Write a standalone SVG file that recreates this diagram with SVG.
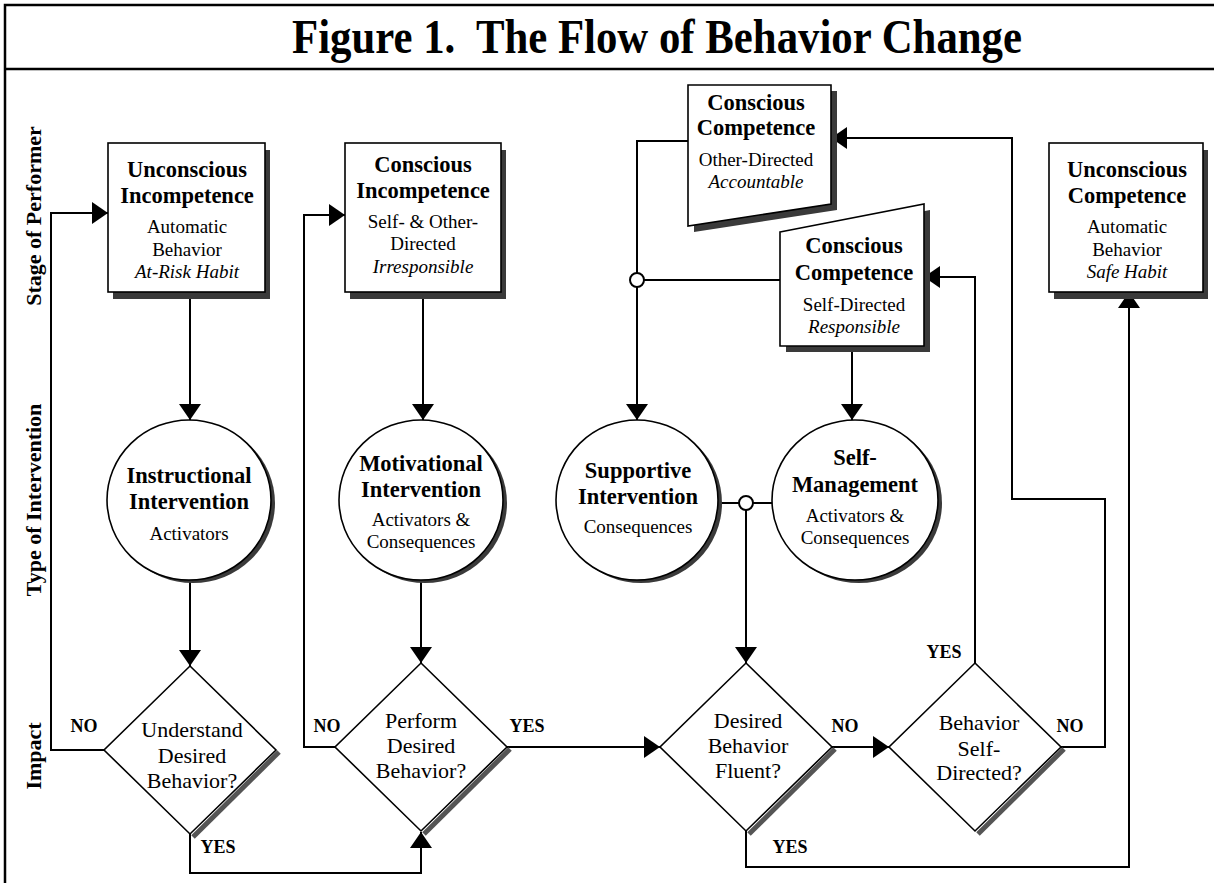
<svg xmlns="http://www.w3.org/2000/svg" width="1214" height="883" viewBox="0 0 1214 883">
<defs>
<style>
text { font-family: "Liberation Serif", "Times New Roman", serif; fill: #000; text-anchor: middle; }
.b { font-weight: bold; font-size: 22.5px; }
.r { font-size: 19px; }
.i { font-style: italic; font-size: 19px; }
.d { font-size: 22px; }
.yn { font-weight: bold; font-size: 18px; }
.ax { font-weight: bold; font-size: 22px; }
.shape { fill: #fff; stroke: #000; stroke-width: 1.6; }
.shadow { fill: #3a3a3a; }
.dshadow { stroke: #555; stroke-width: 5; fill: none; }
.conn { fill: none; stroke: #000; stroke-width: 2; }
.junc { fill: #fff; stroke: #000; stroke-width: 2; }
.frame { stroke: #000; stroke-width: 2.5; fill: none; }
</style>
<marker id="ah" markerUnits="userSpaceOnUse" viewBox="0 0 16 22" markerWidth="16" markerHeight="22" refX="16" refY="11" orient="auto">
<path d="M0,0 L16,11 L0,22 z" fill="#000"/>
</marker>
</defs>
<rect width="1214" height="883" fill="#fff"/>

<g id="frame">
<path class="frame" d="M5,883 L5,5 L1214,5"/>
<path class="frame" d="M5,69 L1214,69"/>
<text x="657" y="53" font-weight="bold" font-size="48" textLength="730" lengthAdjust="spacingAndGlyphs" style="white-space:pre">Figure 1.  The Flow of Behavior Change</text>
</g>

<g id="axis-labels">
<text class="ax" transform="translate(41,216) rotate(-90)">Stage of Performer</text>
<text class="ax" transform="translate(41,500) rotate(-90)">Type of Intervention</text>
<text class="ax" transform="translate(41,756) rotate(-90)">Impact</text>
</g>

<g id="connectors">
<path class="conn" d="M104,750 L51,750 L51,213 L108,213" marker-end="url(#ah)"/>
<path class="conn" d="M190,834 L190,873 L421,873 L421,832" marker-end="url(#ah)"/>
<path class="conn" d="M335,747 L304,747 L304,215 L345,215" marker-end="url(#ah)"/>
<path class="conn" d="M507,747 L660,747" marker-end="url(#ah)"/>
<path class="conn" d="M832,747 L889,747" marker-end="url(#ah)"/>
<path class="conn" d="M975,663 L975,277 L924,277" marker-end="url(#ah)"/>
<path class="conn" d="M1061,747 L1105,747 L1105,499 L1012,499 L1012,138 L831,138" marker-end="url(#ah)"/>
<path class="conn" d="M746,831 L746,867 L1129,867 L1129,292" marker-end="url(#ah)"/>
<path class="conn" d="M190,292 L190,420" marker-end="url(#ah)"/>
<path class="conn" d="M423,292 L423,420" marker-end="url(#ah)"/>
<path class="conn" d="M688,141 L637,141 L637,420" marker-end="url(#ah)"/>
<path class="conn" d="M780,280 L637,280"/>
<path class="conn" d="M852,346 L852,420" marker-end="url(#ah)"/>
<path class="conn" d="M190,580 L190,666" marker-end="url(#ah)"/>
<path class="conn" d="M421,580 L421,663" marker-end="url(#ah)"/>
<path class="conn" d="M718,503 L772,503"/>
<path class="conn" d="M746,503 L746,663" marker-end="url(#ah)"/>
<circle class="junc" cx="637" cy="280" r="7"/>
<circle class="junc" cx="746" cy="503" r="7"/>
</g>

<g id="node-unconscious-incompetence">
<rect class="shadow" x="113" y="150" width="157" height="149"/>
<rect class="shape" x="108" y="143" width="157" height="149"/>
<text class="b" x="187" y="177">Unconscious</text>
<text class="b" x="187" y="203">Incompetence</text>
<text class="r" x="187" y="233">Automatic</text>
<text class="r" x="187" y="256">Behavior</text>
<text class="i" x="187" y="278">At-Risk Habit</text>
</g>

<g id="node-conscious-incompetence">
<rect class="shadow" x="350" y="150" width="156" height="149"/>
<rect class="shape" x="345" y="143" width="156" height="149"/>
<text class="b" x="423" y="172">Conscious</text>
<text class="b" x="423" y="198">Incompetence</text>
<text class="r" x="423" y="228">Self- &amp; Other-</text>
<text class="r" x="423" y="250">Directed</text>
<text class="i" x="423" y="273">Irresponsible</text>
</g>

<g id="node-conscious-competence-other">
<polygon class="shadow" points="694,91 837,91 837,210 694,232"/>
<polygon class="shape" points="688,85 831,85 831,204 688,226"/>
<text class="b" x="756" y="110">Conscious</text>
<text class="b" x="756" y="135">Competence</text>
<text class="r" x="756" y="166">Other-Directed</text>
<text class="i" x="756" y="188">Accountable</text>
</g>

<g id="node-conscious-competence-self">
<polygon class="shadow" points="786,238 930,210 930,352 786,352"/>
<polygon class="shape" points="780,232 924,204 924,346 780,346"/>
<text class="b" x="854" y="253">Conscious</text>
<text class="b" x="854" y="280">Competence</text>
<text class="r" x="854" y="311">Self-Directed</text>
<text class="i" x="854" y="333">Responsible</text>
</g>

<g id="node-unconscious-competence">
<rect class="shadow" x="1054" y="150" width="154" height="149"/>
<rect class="shape" x="1049" y="143" width="154" height="149"/>
<text class="b" x="1127" y="177">Unconscious</text>
<text class="b" x="1127" y="203">Competence</text>
<text class="r" x="1127" y="233">Automatic</text>
<text class="r" x="1127" y="256">Behavior</text>
<text class="i" x="1127" y="278">Safe Habit</text>
</g>

<g id="node-instructional">
<ellipse class="shadow" cx="193" cy="503" rx="82" ry="80"/>
<ellipse class="shape" cx="189" cy="500" rx="82" ry="80"/>
<text class="b" x="189" y="483">Instructional</text>
<text class="b" x="189" y="509">Intervention</text>
<text class="r" x="189" y="540">Activators</text>
</g>

<g id="node-motivational">
<ellipse class="shadow" cx="425" cy="503" rx="82" ry="80"/>
<ellipse class="shape" cx="421" cy="500" rx="82" ry="80"/>
<text class="b" x="421" y="471">Motivational</text>
<text class="b" x="421" y="497">Intervention</text>
<text class="r" x="421" y="526">Activators &amp;</text>
<text class="r" x="421" y="548">Consequences</text>
</g>

<g id="node-supportive">
<ellipse class="shadow" cx="641" cy="503" rx="81" ry="80"/>
<ellipse class="shape" cx="637" cy="500" rx="81" ry="80"/>
<text class="b" x="638" y="478">Supportive</text>
<text class="b" x="638" y="504">Intervention</text>
<text class="r" x="638" y="533">Consequences</text>
</g>

<g id="node-self-management">
<ellipse class="shadow" cx="859" cy="503" rx="83" ry="80"/>
<ellipse class="shape" cx="855" cy="500" rx="83" ry="80"/>
<text class="b" x="855" y="465">Self-</text>
<text class="b" x="855" y="492">Management</text>
<text class="r" x="855" y="522">Activators &amp;</text>
<text class="r" x="855" y="544">Consequences</text>
</g>

<g id="node-understand">
<path class="dshadow" d="M279,752 L193,837"/>
<polygon class="shape" points="190,666 276,750 190,834 104,750"/>
<text class="d" x="192" y="737">Understand</text>
<text class="d" x="192" y="763">Desired</text>
<text class="d" x="192" y="788">Behavior?</text>
</g>

<g id="node-perform">
<path class="dshadow" d="M510,749 L424,834"/>
<polygon class="shape" points="421,663 507,747 421,831 335,747"/>
<text class="d" x="421" y="728">Perform</text>
<text class="d" x="421" y="753">Desired</text>
<text class="d" x="421" y="778">Behavior?</text>
</g>

<g id="node-fluent">
<path class="dshadow" d="M835,749 L749,834"/>
<polygon class="shape" points="746,663 832,747 746,831 660,747"/>
<text class="d" x="748" y="728">Desired</text>
<text class="d" x="748" y="753">Behavior</text>
<text class="d" x="748" y="778">Fluent?</text>
</g>

<g id="node-self-directed">
<path class="dshadow" d="M1064,749 L978,834"/>
<polygon class="shape" points="975,663 1061,747 975,831 889,747"/>
<text class="d" x="979" y="730">Behavior</text>
<text class="d" x="979" y="756">Self-</text>
<text class="d" x="979" y="780">Directed?</text>
</g>

<g id="labels">
<text class="yn" x="84" y="732">NO</text>
<text class="yn" x="218" y="853">YES</text>
<text class="yn" x="327" y="732">NO</text>
<text class="yn" x="527" y="732">YES</text>
<text class="yn" x="845" y="732">NO</text>
<text class="yn" x="790" y="853">YES</text>
<text class="yn" x="944" y="658">YES</text>
<text class="yn" x="1070" y="732">NO</text>
</g>
</svg>
